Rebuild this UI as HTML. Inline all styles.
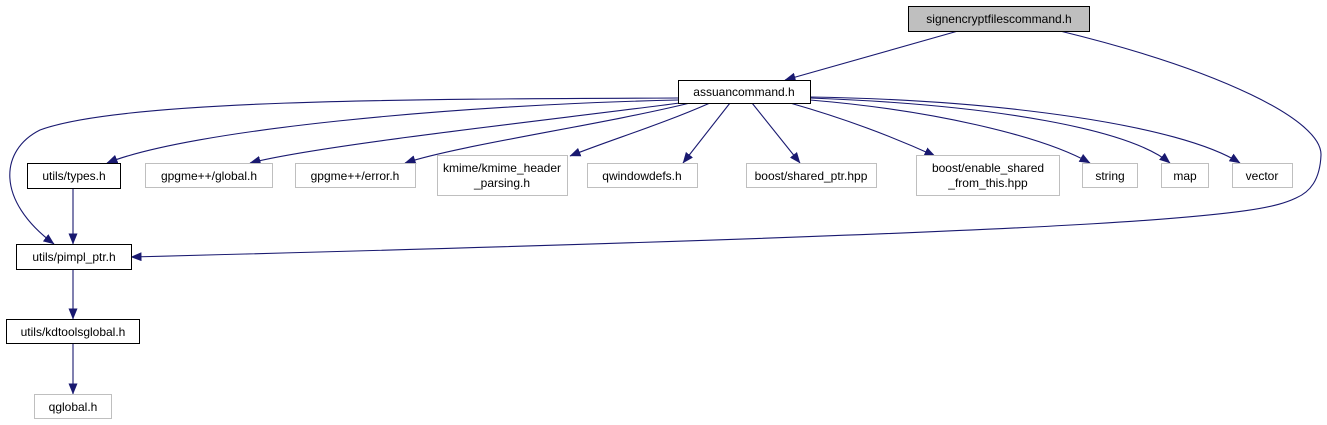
<html><body style="margin:0;background:#fff">
<svg width="1327" height="425" xmlns="http://www.w3.org/2000/svg" font-family="Liberation Sans, sans-serif" font-size="12">
<defs><marker id="a" markerWidth="11" markerHeight="9" refX="10.5" refY="4.5" orient="auto" markerUnits="userSpaceOnUse"><path d="M0,0L11,4.5L0,9z" fill="#191970"/></marker></defs>
<g fill="none" stroke="#191970" stroke-width="1.1" marker-end="url(#a)">
<path d="M958,31 L785,80"/>
<path d="M1060,31 C1220,70 1322,120 1321,155 C1320,180 1310,192 1296,198 C1260,215 1180,230 131,257"/>
<path d="M678,98 C400,99 120,100 40,130 C0,150 -5,200 54,244"/>
<path d="M678,100 C450,105 190,130 107,163"/>
<path d="M680,103 C550,120 320,145 250,163"/>
<path d="M690,103 C600,125 460,145 405,163"/>
<path d="M710,103 C660,125 610,140 570,156"/>
<path d="M730,103 L683,163"/>
<path d="M752,103 L800,163"/>
<path d="M790,103 C850,120 900,140 935,156"/>
<path d="M810,100 C930,110 1040,135 1090,163"/>
<path d="M810,98 C1000,105 1130,130 1170,163"/>
<path d="M810,97 C1000,100 1180,125 1240,163"/>
<path d="M73,188 L73,244"/>
<path d="M73,270 L73,319"/>
<path d="M73,344 L73,394"/>
</g>
<g stroke-width="1">
<rect x="908.5" y="6.5" width="181" height="25" fill="#bfbfbf" stroke="#000"/>
<rect x="678.5" y="80.5" width="132" height="23" fill="#fff" stroke="#000"/>
<rect x="27.5" y="163.5" width="93" height="25" fill="#fff" stroke="#000"/>
<rect x="145.5" y="163.5" width="127" height="24" fill="#fff" stroke="#bfbfbf"/>
<rect x="295.5" y="163.5" width="120" height="24" fill="#fff" stroke="#bfbfbf"/>
<rect x="437.5" y="155.5" width="130" height="40" fill="#fff" stroke="#bfbfbf"/>
<rect x="587.5" y="163.5" width="110" height="24" fill="#fff" stroke="#bfbfbf"/>
<rect x="746.5" y="163.5" width="130" height="24" fill="#fff" stroke="#bfbfbf"/>
<rect x="916.5" y="155.5" width="143" height="40" fill="#fff" stroke="#bfbfbf"/>
<rect x="1082.5" y="163.5" width="55" height="24" fill="#fff" stroke="#bfbfbf"/>
<rect x="1161.5" y="163.5" width="47" height="24" fill="#fff" stroke="#bfbfbf"/>
<rect x="1232.5" y="163.5" width="60" height="24" fill="#fff" stroke="#bfbfbf"/>
<rect x="16.5" y="244.5" width="115" height="25" fill="#fff" stroke="#000"/>
<rect x="6.5" y="319.5" width="133" height="24" fill="#fff" stroke="#000"/>
<rect x="34.5" y="394.5" width="77" height="24" fill="#fff" stroke="#bfbfbf"/>
</g>
<g text-anchor="middle" fill="#000">
<text x="999" y="23">signencryptfilescommand.h</text>
<text x="744" y="96">assuancommand.h</text>
<text x="74" y="180">utils/types.h</text>
<text x="209" y="180">gpgme++/global.h</text>
<text x="355" y="180">gpgme++/error.h</text>
<text x="502" y="172">kmime/kmime_header</text>
<text x="502" y="187">_parsing.h</text>
<text x="642" y="180">qwindowdefs.h</text>
<text x="811" y="180">boost/shared_ptr.hpp</text>
<text x="988" y="172">boost/enable_shared</text>
<text x="988" y="187">_from_this.hpp</text>
<text x="1110" y="180">string</text>
<text x="1185" y="180">map</text>
<text x="1262" y="180">vector</text>
<text x="74" y="261">utils/pimpl_ptr.h</text>
<text x="73" y="336">utils/kdtoolsglobal.h</text>
<text x="73" y="411">qglobal.h</text>
</g>
</svg>
</body></html>
